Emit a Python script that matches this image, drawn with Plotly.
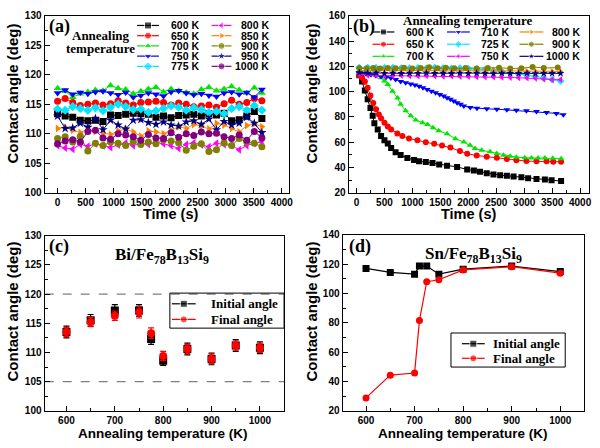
import plotly.graph_objects as go

W, H = 600, 448

# ------------------------------------------------------------------ data
# (a) Bi droplets: contact angle vs time for different annealing temperatures
time_a = [0, 135, 270, 405, 540, 675, 810, 945, 1080, 1215, 1350, 1485, 1620, 1755,
          1890, 2025, 2160, 2295, 2430, 2565, 2700, 2835, 2970, 3105, 3240, 3375, 3510, 3645]
a_600 = [113.4, 113.0, 112.8, 112.3, 112.2, 112.3, 112.1, 113.2, 113.1, 113.3, 113.5, 113.4, 113.3, 112.8,
         113.0, 112.7, 113.1, 113.2, 113.3, 113.0, 113.4, 113.2, 113.5, 112.2, 112.4, 113.0, 113.8, 112.6]
a_650 = [115.5, 116.0, 115.3, 114.8, 115.0, 115.2, 114.9, 115.1, 115.6, 115.2, 114.9, 115.3, 115.4, 115.5,
         115.3, 114.9, 115.2, 115.0, 114.6, 114.7, 114.9, 114.5, 115.1, 115.7, 115.0, 115.3, 116.0, 115.6]
a_700 = [117.7, 117.2, 116.2, 116.8, 117.1, 117.4, 117.3, 118.2, 117.7, 117.5, 116.8, 117.2, 117.6, 117.9,
         117.1, 117.6, 117.3, 117.0, 116.8, 117.5, 117.9, 117.3, 117.6, 118.0, 117.4, 116.9, 117.8, 116.9]
a_750 = [116.9, 117.4, 116.7, 117.0, 116.8, 117.1, 117.2, 116.9, 116.6, 117.0, 116.2, 116.5, 116.9, 116.7,
         116.4, 117.1, 117.3, 116.9, 116.6, 116.8, 116.5, 116.3, 116.9, 117.1, 116.7, 117.0, 116.2, 117.5]
a_775 = [114.2, 114.0, 114.6, 114.3, 114.0, 114.4, 113.9, 114.5, 115.0, 114.6, 114.1, 114.2, 113.6, 113.9,
         114.3, 114.7, 114.5, 114.0, 114.4, 114.1, 113.6, 113.8, 113.4, 114.3, 114.6, 114.0, 114.8, 114.0]
a_800 = [108.0, 107.6, 107.4, 108.2, 107.9, 108.3, 108.0, 107.7, 108.1, 108.5, 108.0, 108.4, 108.2, 108.6,
         108.3, 108.0, 107.5, 108.2, 108.5, 108.1, 107.8, 108.4, 108.2, 108.0, 107.3, 108.0, 108.4, 108.6]
a_850 = [110.9, 111.1, 110.6, 110.2, 110.8, 110.4, 110.1, 109.9, 110.5, 110.8, 110.3, 109.6, 110.5, 110.3,
         110.0, 110.6, 111.2, 110.9, 111.6, 111.3, 110.8, 111.8, 111.5, 110.9, 110.3, 111.4, 111.7, 111.2]
a_900 = [109.2, 109.5, 108.6, 109.6, 107.1, 108.4, 108.0, 108.6, 108.4, 108.0, 108.7, 108.2, 108.6, 108.3,
         109.0, 108.8, 108.5, 107.2, 107.9, 108.3, 107.0, 107.3, 108.5, 108.0, 109.2, 108.6, 108.4, 107.8]
a_950 = [113.0, 110.9, 111.0, 111.8, 111.1, 112.6, 110.7, 112.3, 111.5, 110.8, 112.3, 112.4, 111.9, 111.6,
         112.0, 111.5, 111.3, 112.0, 112.2, 111.6, 112.5, 110.7, 112.1, 111.5, 111.8, 112.8, 111.8, 110.2]
a_1000 = [108.3, 108.8, 109.0, 108.6, 110.4, 110.6, 109.3, 109.1, 110.0, 109.8, 109.5, 108.9, 109.9, 109.3,
          109.2, 110.2, 109.4, 110.0, 109.7, 110.3, 110.0, 110.1, 109.5, 109.2, 109.8, 108.9, 110.4, 109.3]
names_a = ["600 K", "650 K", "700 K", "750 K", "775 K", "800 K", "850 K", "900 K", "950 K", "1000 K"]
series_a = [a_600, a_650, a_700, a_750, a_775, a_800, a_850, a_900, a_950, a_1000]

# (b) Sn droplets: contact angle vs time
t_600 = [50, 100, 150, 200, 250, 290, 320, 380, 440, 500, 560, 620, 700, 790, 910, 1030, 1120, 1240,
         1360, 1480, 1620, 1800, 1980, 2100, 2210, 2330, 2450, 2570, 2690, 2810, 2950, 3070, 3220,
         3370, 3490, 3660]
b_600 = [113, 108, 101, 94, 87, 81, 75, 70, 65, 61.5, 59, 55.5, 52, 50, 47.5, 46, 45, 44.3,
         43.5, 42.5, 41.5, 40.5, 38.5, 37.6, 36.6, 35.5, 34.6, 34, 33.5, 33, 32.3, 31.5, 31,
         30.5, 30, 29.3]
t_650 = [50, 100, 150, 200, 250, 300, 350, 400, 440, 500, 560, 620, 730, 820, 940, 1090, 1240, 1390,
         1530, 1680, 1850, 1980, 2150, 2330, 2510, 2690, 2860, 3040, 3220, 3400, 3520, 3660]
b_650 = [113, 111, 108, 103, 97, 91, 86, 82, 79, 75.5, 72.5, 70, 67, 65, 63, 61.5, 60, 58.8,
         57.5, 55.8, 53, 51, 49.5, 48.5, 47.7, 46.7, 45.7, 45.1, 44.9, 44.9, 44.6, 44.6]
t_700 = [50, 150, 250, 350, 440, 500, 560, 645, 735, 790, 880, 970, 1060, 1180, 1270, 1370, 1470,
         1620, 1770, 1920, 2030, 2120, 2240, 2390, 2510, 2630, 2750, 2860, 3010, 3130, 3250, 3370,
         3510, 3660]
b_700 = [115, 114.8, 114.2, 113, 111, 108.5, 105.6, 100.4, 95, 90, 84.8, 80.9, 77.5, 75.5, 74, 71.5, 69,
         66.7, 62.8, 60.2, 57.6, 55, 53.7, 52.4, 51.1, 49.8, 49, 48.2, 47.8, 47.6, 47.5, 47.5,
         47.3, 47]
t_710 = [50, 130, 200, 260, 340, 440, 530, 615, 700, 790, 880, 970, 1045, 1120, 1190, 1265, 1340,
         1415, 1490, 1560, 1620, 1680, 1740, 1800, 1860, 1920, 2035, 2155, 2330, 2510, 2690, 2860,
         3040, 3220, 3400, 3575, 3700]
b_710 = [115, 114.5, 114, 113.3, 112.7, 112, 111.4, 110.8, 109.5, 108.1, 107.1, 106.1, 105.2, 104.3,
         103, 101.7, 100.4, 99.1, 97.8, 96.5, 95.2, 93.9, 92.6, 91.3, 90, 88.7, 87.4, 86.8, 86.4,
         86.1, 85.6, 85.3, 84.8, 84.3, 83.5, 82.8, 81.7]
t_flat = [50, 200, 350, 500, 650, 800, 950, 1100, 1250, 1400, 1550, 1700, 1850, 2000, 2150, 2300,
          2450, 2600, 2750, 2900, 3050, 3200, 3350, 3500, 3650]
b_725 = [119, 119, 118.8, 118.7, 118.9, 118.6, 118.5, 118.7, 118.4, 119, 118.6, 118.3, 118.5, 118.2,
         117.8, 117.3, 116.6, 115.8, 114.9, 114, 113, 112, 110.8, 109.5, 108.5]
b_750 = [114, 113, 112.8, 112.7, 112.6, 112.8, 112.5, 112.4, 112.6, 112.3, 112.2, 112.4, 112.0, 112.0,
         111.8, 111.6, 111.6, 111.4, 111.2, 111.0, 110.8, 110.5, 110.0, 109.4, 109.5]
b_800 = [116.5, 116.8, 116.5, 116.9, 116.6, 116.8, 116.4, 116.7, 116.5, 116.9, 116.6, 116.3, 116.7,
         116.5, 116.8, 116.4, 116.6, 116.5, 116.2, 116.4, 116.1, 116.3, 115.9, 116.0, 115.9]
t_900 = [50, 180, 300, 420, 560, 700, 850, 1000, 1150, 1300, 1450, 1600, 1750, 1950, 2150, 2350,
         2550, 2750, 2950, 3150, 3350, 3600]
b_900 = [118.5, 118.2, 118.6, 118.3, 118.7, 118.4, 118.9, 118.3, 118.6, 119.2, 118.5, 118.8, 118.4,
         118.6, 118.2, 118.7, 118.9, 118.3, 118.5, 119.5, 118.7, 119.0]
b_1000 = [115, 114.6, 114.8, 114.5, 114.7, 114.4, 114.6, 114.5, 114.8, 114.4, 114.6, 114.5, 114.7,
          114.4, 114.6, 114.5, 114.3, 114.6, 114.5, 114.4, 114.6, 114.3, 114.5, 114.4, 114.5]
names_b = ["600 K", "650 K", "700 K", "710 K", "725 K", "750 K", "800 K", "900 K", "1000 K"]
series_b = [(t_600, b_600), (t_650, b_650), (t_700, b_700), (t_710, b_710), (t_flat, b_725),
            (t_flat, b_750), (t_flat, b_800), (t_900, b_900), (t_flat, b_1000)]

# (c) Bi/Fe78B13Si9: initial and final angle vs annealing temperature
temp_c = [600, 650, 700, 750, 775, 800, 850, 900, 950, 1000]
init_c = [113.5, 115.5, 117.2, 117.2, 112.3, 108.6, 110.6, 108.9, 111.2, 110.8]
init_c_err = [1.0, 1.0, 1.0, 1.0, 0.9, 0.8, 1.0, 1.0, 1.0, 1.0]
final_c = [113.5, 115.2, 116.3, 116.9, 113.3, 109.4, 110.6, 108.9, 111.2, 110.8]
final_c_err = [0.8, 0.8, 0.8, 1.0, 0.9, 0.8, 0.8, 0.8, 0.8, 0.8]
ref_lines_c = [105, 120]

# (d) Sn/Fe78B13Si9
temp_d = [600, 650, 700, 710, 725, 750, 800, 900, 1000]
init_d = [117, 114.3, 113.1, 118.6, 118.6, 113.1, 116.5, 118.6, 114.9]
final_d = [28.8, 44.3, 45.8, 81.5, 108, 109.3, 116, 118.2, 113.8]

# ------------------------------------------------------------------ styles
BLACK, RED, GREEN, BLUE = "#000000", "#FF0000", "#00E600", "#0000FF"
CYAN, MAGENTA, ORANGE = "#00E5FF", "#FF00FF", "#FF8000"
OLIVE, NAVY, PURPLE = "#808000", "#000080", "#800080"
style_a = [(BLACK, "square"), (RED, "circle"), (GREEN, "triangle-up"), (BLUE, "triangle-down"),
           (CYAN, "diamond"), (MAGENTA, "triangle-left"), (ORANGE, "triangle-right"),
           (OLIVE, "circle"), (NAVY, "star"), (PURPLE, "circle")]
style_b = [(BLACK, "square"), (RED, "circle"), (GREEN, "triangle-up"), (BLUE, "triangle-down"),
           (CYAN, "diamond"), (MAGENTA, "triangle-left"), (ORANGE, "triangle-right"),
           (OLIVE, "circle"), (NAVY, "star")]

SANS = "Liberation Sans"
SERIF = "Liberation Serif"

fig = go.Figure()

# (a)
for name, ys, (c, s) in zip(names_a, series_a, style_a):
    fig.add_trace(go.Scatter(x=time_a, y=ys, name=name, mode="lines+markers",
                             line=dict(color=c, width=1),
                             marker=dict(color=c, symbol=s, size=7),
                             xaxis="x", yaxis="y", showlegend=False))
# (b)
for name, (ts, ys), (c, s) in zip(names_b, series_b, style_b):
    fig.add_trace(go.Scatter(x=ts, y=ys, name=name, mode="lines+markers",
                             line=dict(color=c, width=1),
                             marker=dict(color=c, symbol=s, size=6),
                             xaxis="x2", yaxis="y2", showlegend=False))
# (c)
fig.add_trace(go.Scatter(x=temp_c, y=init_c, name="Initial angle", mode="markers",
                         marker=dict(color=BLACK, symbol="square", size=8),
                         error_y=dict(type="data", array=init_c_err, color=BLACK, thickness=1.2, width=3),
                         xaxis="x3", yaxis="y3", showlegend=False))
fig.add_trace(go.Scatter(x=temp_c, y=final_c, name="Final angle", mode="markers",
                         marker=dict(color=RED, symbol="circle", size=8),
                         error_y=dict(type="data", array=final_c_err, color=RED, thickness=1.2, width=3),
                         xaxis="x3", yaxis="y3", showlegend=False))
# (d)
fig.add_trace(go.Scatter(x=temp_d, y=init_d, name="Initial angle", mode="lines+markers",
                         line=dict(color=BLACK, width=1.2),
                         marker=dict(color=BLACK, symbol="square", size=7),
                         xaxis="x4", yaxis="y4", showlegend=False))
fig.add_trace(go.Scatter(x=temp_d, y=final_d, name="Final angle", mode="lines+markers",
                         line=dict(color=RED, width=1.2),
                         marker=dict(color=RED, symbol="circle", size=7),
                         xaxis="x4", yaxis="y4", showlegend=False))

# ------------------------------------------------------------------ hand-drawn legends (pixel overlay axis)
annotations = []


def key(x0, x1, y, color, symbol, size=7):
    fig.add_trace(go.Scatter(x=[x0, (x0 + x1) / 2, x1], y=[y, y, y], mode="lines+markers",
                             line=dict(color=color, width=1.2),
                             marker=dict(color=color, symbol=symbol, size=[0, size, 0]),
                             xaxis="x5", yaxis="y5", showlegend=False, hoverinfo="skip"))


def text(x, y, s, size, family=SANS, xanchor="left", angle=0, bold=True):
    annotations.append(dict(x=x, y=y, xref="x5", yref="y5", text=s, showarrow=False,
                            xanchor=xanchor, yanchor="middle", textangle=angle,
                            font=dict(family=family, size=size, color="black",
                                      weight="bold" if bold else "normal")))


# legend (a)
rows_a = [20, 30.5, 41, 51.5, 62]
for i in range(5):
    c, s = style_a[i]
    key(138, 160, rows_a[i], c, s)
    text(170, rows_a[i], names_a[i], 10.5)
    c, s = style_a[i + 5]
    key(213, 233, rows_a[i], c, s)
    text(273, rows_a[i], names_a[i + 5], 10.5, xanchor="right")
text(102, 30, "Annealing", 13, family=SERIF, xanchor="center")
text(101, 44, "temperature", 13, family=SERIF, xanchor="center")

# legend (b)
rows_b = [26.7, 39.3, 51.7]
cols_b = [(375, 397, 407, "left"), (450, 473, 482, "left"), (523, 547, 586, "right")]
for j, (k0, k1, tx, anc) in enumerate(cols_b):
    for i in range(3):
        idx = j * 3 + i
        c, s = style_b[idx]
        key(k0, k1, rows_b[i], c, s, 6)
        text(tx, rows_b[i], names_b[idx], 10.5, xanchor=anc)
text(471, 15, "Annealing temperature", 13, family=SERIF, xanchor="center")

# legend (c)
key(173, 197, 306, BLACK, "square", 7)
key(173, 197, 322, RED, "circle", 7)
text(210, 306, "Initial angle", 13, family=SERIF)
text(210, 322, "Final angle", 13, family=SERIF)
# legend (d)
key(465, 488, 347, BLACK, "square", 7)
key(465, 488, 362, RED, "circle", 7)
text(494, 347, "Initial angle", 13, family=SERIF)
text(494, 362, "Final angle", 13, family=SERIF)

# panel labels and titles
text(47, 21, "(a)", 18, family=SERIF)
text(353, 21, "(b)", 18, family=SERIF)
text(47, 247, "(c)", 18, family=SERIF)
text(349, 247, "(d)", 18, family=SERIF)
text(163, 257, "Bi/Fe<sub>78</sub>B<sub>13</sub>Si<sub>9</sub>", 17, family=SERIF, xanchor="center")
text(477, 256, "Sn/Fe<sub>78</sub>B<sub>13</sub>Si<sub>9</sub>", 17, family=SERIF, xanchor="center")

# axis titles
text(172, 214, "Time (s)", 14.5, xanchor="center")
text(472, 214, "Time (s)", 14.5, xanchor="center")
text(164, 439, "Annealing temperature (K)", 13.5, xanchor="center")
text(466, 439, "Annealing temperature (K)", 13.5, xanchor="center")
text(13, 90, "Contact angle (deg)", 15, xanchor="center", angle=-90)
text(314, 90, "Contact angle (deg)", 15, xanchor="center", angle=-90)
text(13, 314, "Contact angle (deg)", 15, xanchor="center", angle=-90)
text(314, 314, "Contact angle (deg)", 15, xanchor="center", angle=-90)

# ------------------------------------------------------------------ axes
def xdom(x0, x1):
    return [x0 / W, x1 / W]


def ydom(y0, y1):
    return [1 - y1 / H, 1 - y0 / H]


def ax(domain, rng, dtick, minor, anchor):
    return dict(domain=domain, range=rng, dtick=dtick, tick0=0, anchor=anchor,
                showline=True, linecolor="black", linewidth=1.3, mirror=True,
                ticks="inside", ticklen=5, tickwidth=1.2, tickcolor="black",
                showgrid=False, zeroline=False,
                tickfont=dict(family=SANS, size=10, color="black", weight="bold"),
                minor=dict(dtick=minor, tick0=0, ticks="inside", ticklen=3, tickwidth=1,
                           tickcolor="black", showgrid=False))


shapes = []
for v in ref_lines_c:
    shapes.append(dict(type="line", xref="x3 domain", yref="y3", x0=0, x1=1, y0=v, y1=v,
                       line=dict(color="#808080", width=1.2, dash="dash"), layer="below"))
shapes.append(dict(type="rect", xref="x5", yref="y5", x0=171, x1=286, y0=295, y1=331,
                   line=dict(color="black", width=1), fillcolor="rgba(0,0,0,0)", layer="above"))
shapes.append(dict(type="rect", xref="x5", yref="y5", x0=454, x1=569, y0=336, y1=371,
                   line=dict(color="black", width=1), fillcolor="rgba(0,0,0,0)", layer="above"))

fig.update_layout(
    width=W, height=H, margin=dict(l=0, r=0, t=0, b=0),
    paper_bgcolor="white", plot_bgcolor="rgba(0,0,0,0)",
    showlegend=False,
    xaxis=ax(xdom(45, 291), [-230, 4130], 500, 250, "y"),
    yaxis=ax(ydom(10, 192), [100, 130], 5, 2.5, "x"),
    xaxis2=ax(xdom(351, 593), [-140, 4160], 500, 250, "y2"),
    yaxis2=ax(ydom(10, 192), [20, 160], 20, 10, "x2"),
    xaxis3=ax(xdom(45, 286), [555, 1050], 100, 50, "y3"),
    yaxis3=ax(ydom(236, 416), [100, 130], 5, 2.5, "x3"),
    xaxis4=ax(xdom(345, 588), [552, 1049], 100, 50, "y4"),
    yaxis4=ax(ydom(235, 416), [20, 140], 20, 10, "x4"),
    xaxis5=dict(domain=[0, 1], range=[0, W], visible=False, anchor="y5", fixedrange=True),
    yaxis5=dict(domain=[0, 1], range=[H, 0], visible=False, anchor="x5", fixedrange=True),
    annotations=annotations,
    shapes=shapes,
)

fig.write_html("out.html", config={"displayModeBar": False},
               post_script="document.body.style.margin='0';")
